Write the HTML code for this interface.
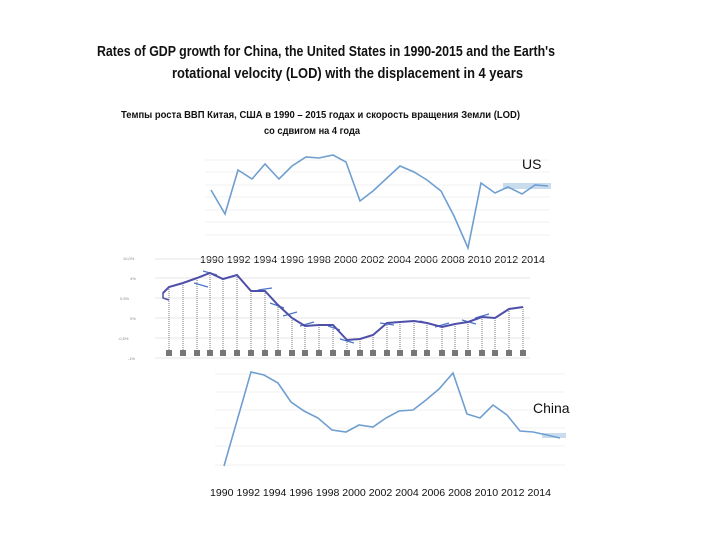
<!DOCTYPE html>
<html><head><meta charset="utf-8"><style>html,body{margin:0;padding:0;background:#fff}svg{display:block}</style></head>
<body>
<svg width="720" height="540" viewBox="0 0 720 540" xmlns="http://www.w3.org/2000/svg" font-family="Liberation Sans, sans-serif">
<rect width="720" height="540" fill="#fff"/>
<text x="97" y="56" font-size="15" font-weight="bold" textLength="458" lengthAdjust="spacingAndGlyphs" fill="#111">Rates of  GDP growth for   China, the United States in 1990-2015 and the Earth's</text>
<text x="172" y="78" font-size="15" font-weight="bold" textLength="351" lengthAdjust="spacingAndGlyphs" fill="#111">rotational velocity (LOD) with the  displacement in 4 years</text>
<text x="121" y="118" font-size="10.5" font-weight="bold" textLength="399" lengthAdjust="spacingAndGlyphs" fill="#111">Темпы роста ВВП Китая,  США в 1990 – 2015 годах  и скорость вращения Земли (LOD)</text>
<text x="264" y="134" font-size="10.5" font-weight="bold" textLength="96" lengthAdjust="spacingAndGlyphs" fill="#111">со сдвигом на 4 года</text>

<!-- US chart -->
<g stroke="#f0f0f0" stroke-width="1">
<line x1="205" y1="160" x2="550" y2="160"/><line x1="205" y1="172" x2="550" y2="172"/><line x1="205" y1="185" x2="550" y2="185"/><line x1="205" y1="197" x2="550" y2="197"/><line x1="205" y1="210" x2="550" y2="210"/><line x1="205" y1="222" x2="550" y2="222"/><line x1="205" y1="235" x2="550" y2="235"/>
</g>
<rect x="503" y="183" width="48" height="6" fill="#c9dcee"/>
<polyline fill="none" stroke="#6f9fd0" stroke-width="1.6" points="211,190 225,214 238,170 252,179 265,164 279,179 292,166 306,157 319,158 333,155 346,162 360,201 373,191 387,178 400,166 414,172 427,180 441,191 454,216 468,248 481,183 495,193 508,187 522,194 535,185 548,186"/>
<text x="522" y="169" font-size="14" fill="#111">US</text>
<text x="200" y="263" font-size="10.5" textLength="345" lengthAdjust="spacingAndGlyphs" fill="#111">1990  1992  1994  1996  1998  2000  2002  2004  2006  2008  2010  2012  2014</text>

<!-- Middle LOD chart -->
<g stroke="#e6e6e6" stroke-width="1">
<line x1="155" y1="259" x2="530" y2="259"/><line x1="155" y1="278" x2="530" y2="278"/><line x1="155" y1="298" x2="530" y2="298"/><line x1="155" y1="318" x2="530" y2="318"/><line x1="155" y1="338" x2="530" y2="338"/><line x1="155" y1="358" x2="530" y2="358"/>
</g>
<g font-size="4" fill="#888">
<text x="123" y="260">10,0%</text><text x="130" y="280">4%</text><text x="120" y="300">0,5%</text><text x="130" y="320">0%</text><text x="118" y="340">-0,5%</text><text x="128" y="360">-1%</text>
</g>
<g stroke="#777" stroke-width="1" stroke-dasharray="1,1">
<line x1="169" y1="287" x2="169" y2="350"/><line x1="183" y1="283" x2="183" y2="350"/><line x1="197" y1="278" x2="197" y2="350"/><line x1="210" y1="273" x2="210" y2="350"/><line x1="223" y1="279" x2="223" y2="350"/><line x1="237" y1="275" x2="237" y2="350"/><line x1="251" y1="291" x2="251" y2="350"/><line x1="265" y1="291" x2="265" y2="350"/><line x1="278" y1="305" x2="278" y2="350"/><line x1="292" y1="318" x2="292" y2="350"/><line x1="305" y1="326" x2="305" y2="350"/><line x1="319" y1="325" x2="319" y2="350"/><line x1="333" y1="325" x2="333" y2="350"/><line x1="347" y1="340" x2="347" y2="350"/><line x1="360" y1="339" x2="360" y2="350"/><line x1="373" y1="335" x2="373" y2="350"/><line x1="387" y1="323" x2="387" y2="350"/><line x1="400" y1="322" x2="400" y2="350"/><line x1="414" y1="321" x2="414" y2="350"/><line x1="427" y1="323" x2="427" y2="350"/><line x1="442" y1="327" x2="442" y2="350"/><line x1="455" y1="324" x2="455" y2="350"/><line x1="468" y1="322" x2="468" y2="350"/><line x1="482" y1="317" x2="482" y2="350"/><line x1="495" y1="318" x2="495" y2="350"/><line x1="509" y1="309" x2="509" y2="350"/><line x1="523" y1="307" x2="523" y2="350"/>
</g>
<g fill="#777">
<rect x="166" y="350" width="6" height="6"/><rect x="180" y="350" width="6" height="6"/><rect x="194" y="350" width="6" height="6"/><rect x="207" y="350" width="6" height="6"/><rect x="220" y="350" width="6" height="6"/><rect x="234" y="350" width="6" height="6"/><rect x="248" y="350" width="6" height="6"/><rect x="262" y="350" width="6" height="6"/><rect x="275" y="350" width="6" height="6"/><rect x="289" y="350" width="6" height="6"/><rect x="302" y="350" width="6" height="6"/><rect x="316" y="350" width="6" height="6"/><rect x="330" y="350" width="6" height="6"/><rect x="344" y="350" width="6" height="6"/><rect x="357" y="350" width="6" height="6"/><rect x="370" y="350" width="6" height="6"/><rect x="384" y="350" width="6" height="6"/><rect x="397" y="350" width="6" height="6"/><rect x="411" y="350" width="6" height="6"/><rect x="424" y="350" width="6" height="6"/><rect x="439" y="350" width="6" height="6"/><rect x="452" y="350" width="6" height="6"/><rect x="465" y="350" width="6" height="6"/><rect x="479" y="350" width="6" height="6"/><rect x="492" y="350" width="6" height="6"/><rect x="506" y="350" width="6" height="6"/><rect x="520" y="350" width="6" height="6"/>
</g>
<g stroke="#4b74c8" stroke-width="1.2">
<line x1="194" y1="283" x2="208" y2="287"/><line x1="203" y1="271" x2="217" y2="275"/><line x1="258" y1="290" x2="272" y2="288"/><line x1="270" y1="303" x2="284" y2="308"/><line x1="283" y1="316" x2="297" y2="312"/><line x1="300" y1="326" x2="314" y2="322"/><line x1="328" y1="326" x2="340" y2="330"/><line x1="340" y1="339" x2="354" y2="343"/><line x1="380" y1="323" x2="394" y2="325"/><line x1="420" y1="321" x2="434" y2="325"/><line x1="435" y1="327" x2="449" y2="323"/><line x1="462" y1="320" x2="476" y2="324"/><line x1="475" y1="318" x2="489" y2="314"/>
</g>
<polyline fill="none" stroke="#4e4fa8" stroke-width="2" points="163,293 169,287 183,283 197,278 210,273 223,279 237,275 251,291 265,291 278,305 292,318 305,326 319,325 333,325 347,340 360,339 373,335 387,323 400,322 414,321 427,323 442,327 455,324 468,322 482,317 495,318 509,309 523,307"/>
<polyline fill="none" stroke="#4e4fa8" stroke-width="1.5" points="169,287 163,293 163,298 169,300"/>

<!-- China chart -->
<g stroke="#f2f2f2" stroke-width="1">
<line x1="215" y1="374" x2="565" y2="374"/><line x1="215" y1="392" x2="565" y2="392"/><line x1="215" y1="410" x2="565" y2="410"/><line x1="215" y1="428" x2="565" y2="428"/><line x1="215" y1="446" x2="565" y2="446"/><line x1="215" y1="465" x2="565" y2="465"/>
</g>
<rect x="542" y="433" width="24" height="5" fill="#c9dcee"/>
<polyline fill="none" stroke="#6f9fd0" stroke-width="1.6" points="224,466 251,372 264,375 278,383 291,402 304,411 318,418 332,430 346,432 359,425 373,427 386,418 399,411 413,410 426,400 439,389 453,373 467,414 480,418 493,405 507,415 520,431 533,432 547,435 560,438"/>
<text x="533" y="413" font-size="14" fill="#111">China</text>
<text x="210" y="496" font-size="10.5" textLength="341" lengthAdjust="spacingAndGlyphs" fill="#111">1990  1992  1994  1996  1998  2000  2002  2004  2006  2008  2010  2012  2014</text>
</svg>
</body></html>
